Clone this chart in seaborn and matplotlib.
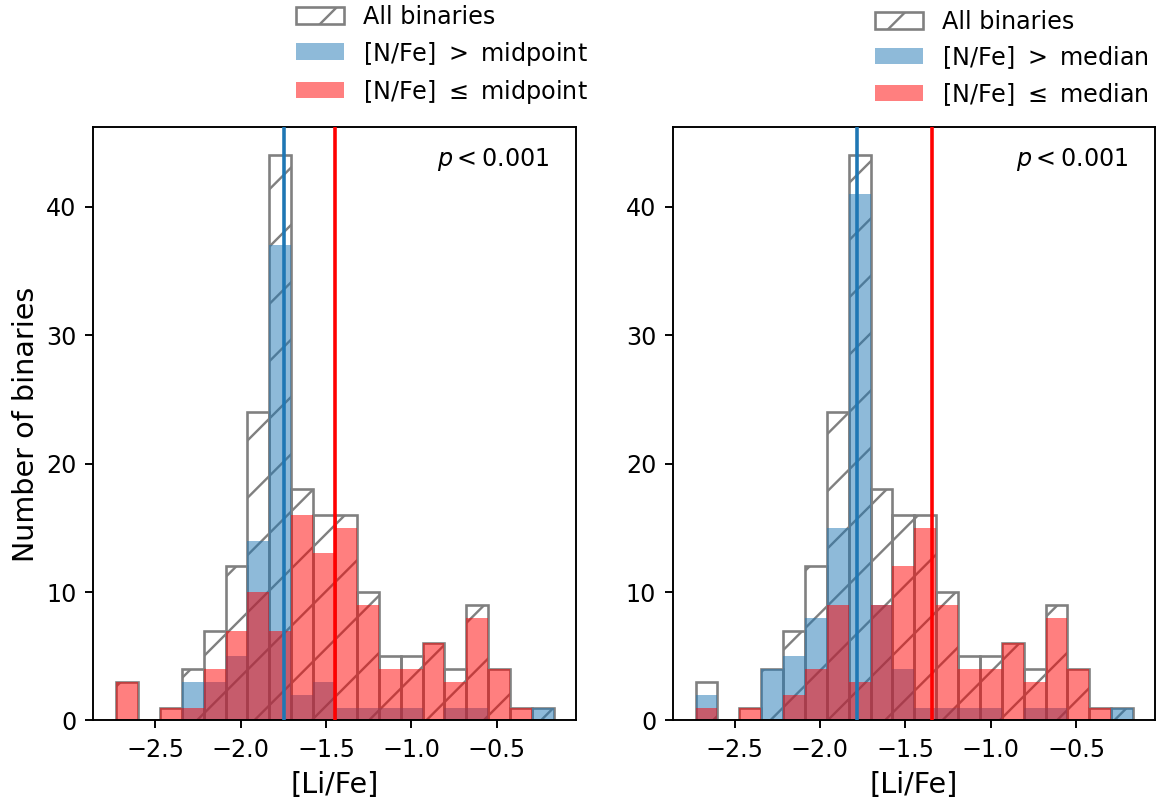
import numpy as np
import pandas as pd
import matplotlib
matplotlib.use("Agg")
import matplotlib.pyplot as plt
import matplotlib.patches as mpatches
from matplotlib.colors import to_rgba
import seaborn as sns

# ---------------- data ----------------
LI_MIN, LI_MAX, N_BINS = -2.728, -0.167, 20

ALL_COUNTS = [3, 0, 1, 4, 7, 12, 24, 44, 18, 16, 16, 10, 5, 5, 6, 4, 9, 4, 1, 1]

MID_HIGH = [0, 0, 0, 3, 3, 5, 14, 37, 2, 3, 1, 1, 1, 1, 0, 1, 1, 0, 0, 1]
MID_LOW = [3, 0, 1, 1, 4, 7, 10, 7, 16, 13, 15, 9, 4, 4, 6, 3, 8, 4, 1, 0]

MED_HIGH = [2, 0, 0, 4, 5, 8, 15, 41, 9, 4, 1, 1, 1, 1, 0, 1, 1, 0, 0, 1]
MED_LOW = [1, 0, 1, 0, 2, 4, 9, 3, 9, 12, 15, 9, 4, 4, 6, 3, 8, 4, 1, 0]

MID_HIGH_LINE, MID_LOW_LINE = -1.746, -1.446
MED_HIGH_LINE, MED_LOW_LINE = -1.784, -1.346

LABELS_MID = ["All binaries", r"[N/Fe] $>$ midpoint", r"[N/Fe] $\leq$ midpoint"]
LABELS_MED = ["All binaries", r"[N/Fe] $>$ median", r"[N/Fe] $\leq$ median"]
P_TEXT = r"$p < 0.001$"
XTICKS = [-2.5, -2.0, -1.5, -1.0, -0.5]
YTICKS = [0, 10, 20, 30, 40]

# ---------------- style ----------------
DPI = 172

plt.rcParams.update({
    "font.family": ["DejaVu Sans"],
    "mathtext.fontset": "dejavusans",
    "font.size": 10,
    "hatch.linewidth": 1.0,
})

BLUE = "#1f77b4"
RED = "#ff0000"
GRAY = "gray"

edges = np.linspace(LI_MIN, LI_MAX, N_BINS + 1)
centers = 0.5 * (edges[:-1] + edges[1:])
bin_list = [float(e) for e in edges]

fig = plt.figure(figsize=(1161.3 / DPI, 802.3 / DPI), dpi=DPI)
ax1 = fig.add_axes([0.0804, 0.1016, 0.4157, 0.7397])
ax2 = fig.add_axes([0.5794, 0.1016, 0.4154, 0.7397])


def hist(ax, counts, **kws):
    df = pd.DataFrame({"li": centers, "n": counts})
    sns.histplot(data=df, x="li", weights="n", bins=bin_list, ax=ax, **kws)


def panel(ax, high, low, high_line, low_line, labels, leg_y):
    hist(ax, ALL_COUNTS, fill=False, color=GRAY, alpha=1, hatch="/",
         linewidth=1.1, zorder=1)
    hist(ax, high, fill=True, color=BLUE, alpha=0.5, edgecolor="none",
         linewidth=0, zorder=2)
    hist(ax, low, fill=True, color=RED, alpha=0.5, edgecolor="none",
         linewidth=0, zorder=2)
    ax.axvline(high_line, color=BLUE, lw=1.5, zorder=3)
    ax.axvline(low_line, color=RED, lw=1.5, zorder=3)

    ax.set_xlim(-2.861, -0.037)
    ax.set_ylim(0, 46.2)
    ax.set_xticks(XTICKS)
    ax.set_yticks(YTICKS)
    ax.set_xlabel("[Li/Fe]", fontsize=12)
    ax.set_ylabel("")

    ax.text(0.944, 0.945, P_TEXT, transform=ax.transAxes, ha="right",
            va="center", fontsize=10)

    handles = [
        mpatches.Patch(facecolor="white", edgecolor=GRAY, hatch="/", lw=1.1),
        mpatches.Patch(facecolor=to_rgba(BLUE, 0.5), edgecolor="none"),
        mpatches.Patch(facecolor=to_rgba(RED, 0.5), edgecolor="none"),
    ]
    ax.legend(handles, labels, loc="lower left", bbox_to_anchor=(0.40, leg_y),
              frameon=False, borderaxespad=0, fontsize=10, labelspacing=0.42)


panel(ax1, MID_HIGH, MID_LOW, MID_HIGH_LINE, MID_LOW_LINE, LABELS_MID, 1.0206)
panel(ax2, MED_HIGH, MED_LOW, MED_HIGH_LINE, MED_LOW_LINE, LABELS_MED, 1.0173)
ax1.set_ylabel("Number of binaries", fontsize=12, labelpad=2.8)

fig.savefig("out.png", dpi=DPI)
